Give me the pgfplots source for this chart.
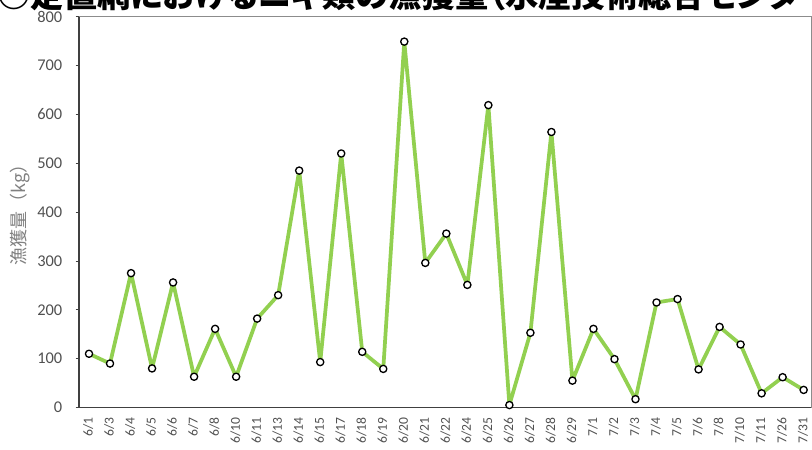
\documentclass[border=0pt]{standalone}
\usepackage{fontspec}
\setmainfont{Carlito}
\newfontfamily\jp{Noto Sans CJK JP}
\newfontfamily\jptitle{Noto Sans CJK JP}[RawFeature=+palt]
\usepackage{pgfplots}
\usepackage{pgfplotstable}
\pgfplotsset{compat=1.18}

\definecolor{linegreen}{HTML}{92D050}
\definecolor{ticktext}{HTML}{505050}
\definecolor{axisdark}{HTML}{404040}
\definecolor{labelgray}{HTML}{808080}
\definecolor{bordergray}{HTML}{8C8C8C}

% daily catch (kg) at the set net
\pgfplotstableread{
idx date val
0  6/1  110
1  6/3  90
2  6/4  275
3  6/5  80
4  6/6  256
5  6/7  63
6  6/8  161
7  6/10 63
8  6/11 182
9  6/13 230
10 6/14 485
11 6/15 93
12 6/17 520
13 6/18 114
14 6/19 79
15 6/20 749
16 6/21 296
17 6/22 356
18 6/24 251
19 6/25 619
20 6/26 5
21 6/27 153
22 6/28 564
23 6/29 55
24 7/1  161
25 7/2  99
26 7/3  17
27 7/4  215
28 7/5  222
29 7/6  78
30 7/8  165
31 7/10 129
32 7/11 29
33 7/26 62
34 7/31 36
}\catch

\begin{document}
\begin{tikzpicture}[x=1pt,y=1pt]
\useasboundingbox (0,0) rectangle (609,336.75);
\clip (0,0) rectangle (609,336.75);
\begin{axis}[
  at={(59.25pt,31.125pt)}, anchor=south west,
  scale only axis, width=549pt, height=293.1pt,
  xmin=-0.476, xmax=34.35, ymin=0, ymax=800,
  axis x line*=bottom, axis y line*=left,
  axis line style={axisdark, line width=1.1pt},
  xtick=data,
  xticklabels from table={\catch}{date},
  x tick style={draw=none},
  xticklabel style={yshift=-1.5pt, xshift=-0.6pt, rotate=90, anchor=east, font=\fontsize{10.2}{11}\selectfont, text=ticktext},
  ytick={0,100,...,800},
  tick align=outside,
  major tick length=2.5pt,
  y tick style={axisdark, line width=0.6pt},
  yticklabel style={xshift=-6.5pt, font=\fontsize{12.3}{14}\selectfont, text=ticktext},
  /pgf/number format/assume math mode=true,
  ylabel={\jp 漁獲量（kg）},
  ylabel style={at={(axis description cs:-0.0806,0.505)}, anchor=center, font=\fontsize{13.5}{15}\selectfont, text=labelgray},
  clip=false,
]
\draw[bordergray, line width=0.7pt] (rel axis cs:0,1) -- (rel axis cs:1,1) -- (rel axis cs:1,0);
\addplot[linegreen, line width=2.8pt, line join=round,
  mark=*, mark size=2.7pt,
  mark options={draw=black, fill=white, line width=1pt}]
  table[x=idx, y=val] {\catch};
\end{axis}
\node[anchor=base west, inner sep=0pt, font=\jptitle\bfseries\fontsize{25}{25}\selectfont] at (-2,331)
  {○定置網におけるニギ類の漁獲量（水産技術総合センター）};
\end{tikzpicture}
\end{document}
